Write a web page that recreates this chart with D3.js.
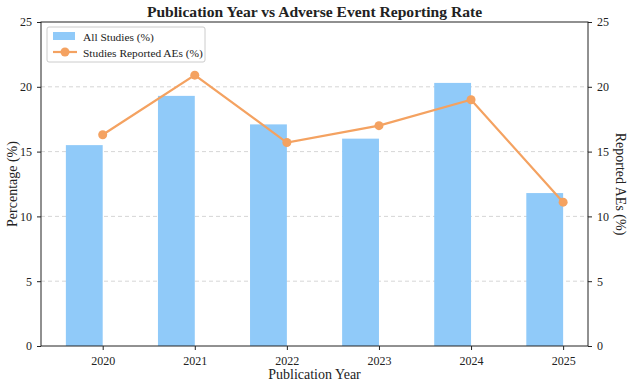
<!DOCTYPE html>
<html>
<head>
<meta charset="utf-8">
<script src="https://cdn.jsdelivr.net/npm/d3@7"></script>
<style>
  body { margin: 0; background: #fff; }
  svg text { font-family: "Liberation Serif", "DejaVu Serif", serif; fill: #222; }
</style>
</head>
<body>
<script>
// data
const years = [2020, 2021, 2022, 2023, 2024, 2025];
const allStudies = [15.5, 19.3, 17.1, 16.0, 20.3, 11.8];
const reportedAEs = [16.3, 20.9, 15.7, 17.0, 19.0, 11.1];
const yTicks = [0, 5, 10, 15, 20, 25];

const W = 630, H = 385;
const margin = { top: 22, right: 42, bottom: 39, left: 41 },
    width = W - margin.left - margin.right,
    height = H - margin.top - margin.bottom;

const svg = d3.select('body').append('svg')
    .attr('width', W)
    .attr('height', H);

const g = svg.append('g')
    .attr('transform', `translate(${margin.left},${margin.top})`);

// X: linear, like matplotlib's numeric axis with 5% margins
const barW = 0.4;
const x = d3.scaleLinear()
    .domain([2020 - barW - 0.27, 2025 + 0.27])
    .range([0, width]);

// Y (both sides share 0-25)
const y = d3.scaleLinear().domain([0, 25]).range([height, 0]);
const y2 = d3.scaleLinear().domain([0, 25]).range([height, 0]);

// grid
g.append('g').selectAll('line')
    .data(yTicks.slice(1, -1))
    .join('line')
    .attr('x1', 0).attr('x2', width)
    .attr('y1', d => y(d)).attr('y2', d => y(d))
    .attr('stroke', '#ccc')
    .attr('stroke-dasharray', '4,3')
    .attr('stroke-width', 0.8);

// Bars (right edge sits on the tick)
g.append('g').selectAll('rect')
    .data(years)
    .join('rect')
    .attr('x', d => x(d - barW))
    .attr('width', d => x(d) - x(d - barW))
    .attr('y', (d, i) => y(allStudies[i]))
    .attr('height', (d, i) => height - y(allStudies[i]))
    .attr('fill', '#90CAF9');

// Line
const orange = '#F4A261';
g.append('path')
    .datum(years)
    .attr('fill', 'none')
    .attr('stroke', orange)
    .attr('stroke-width', 2.2)
    .attr('d', d3.line().x(d => x(d)).y((d, i) => y2(reportedAEs[i])));

g.append('g').selectAll('circle')
    .data(years)
    .join('circle')
    .attr('cx', d => x(d))
    .attr('cy', (d, i) => y2(reportedAEs[i]))
    .attr('r', 4.5)
    .attr('fill', orange);

// Axes
const styleAxis = sel => {
    sel.select('.domain').remove();
    sel.selectAll('.tick line').attr('stroke', '#222');
    sel.selectAll('.tick text').style('font-size', '12px').style('font-family', '"Liberation Serif", serif');
};

g.append('g')
    .attr('transform', `translate(0,${height})`)
    .call(d3.axisBottom(x).tickValues(years).tickFormat(d3.format('d')).tickSize(4).tickPadding(6))
    .call(styleAxis);

g.append('g')
    .call(d3.axisLeft(y).tickValues(yTicks).tickSize(4).tickPadding(5))
    .call(styleAxis);

g.append('g')
    .attr('transform', `translate(${width},0)`)
    .call(d3.axisRight(y2).tickValues(yTicks).tickSize(4).tickPadding(5))
    .call(styleAxis);

// frame
g.append('rect')
    .attr('width', width).attr('height', height)
    .attr('fill', 'none')
    .attr('stroke', '#222')
    .attr('stroke-width', 1);

// Title + labels
svg.append('text')
    .attr('x', margin.left + width / 2).attr('y', 17)
    .attr('text-anchor', 'middle')
    .style('font-size', '15.6px').style('font-weight', 'bold')
    .text('Publication Year vs Adverse Event Reporting Rate');

svg.append('text')
    .attr('x', margin.left + width / 2).attr('y', 379)
    .attr('text-anchor', 'middle')
    .style('font-size', '14px')
    .text('Publication Year');

svg.append('text')
    .attr('transform', `translate(17,${margin.top + height / 2}) rotate(-90)`)
    .attr('text-anchor', 'middle')
    .style('font-size', '14px')
    .text('Percentage (%)');

svg.append('text')
    .attr('transform', `translate(616,${margin.top + height / 2}) rotate(90)`)
    .attr('text-anchor', 'middle')
    .style('font-size', '14px')
    .text('Reported AEs (%)');

// Legend
const lg = g.append('g').attr('transform', 'translate(6,5)');
lg.append('rect')
    .attr('width', 158).attr('height', 35)
    .attr('rx', 2)
    .attr('fill', '#fff').attr('fill-opacity', 0.85)
    .attr('stroke', '#ccc');
lg.append('rect')
    .attr('x', 6).attr('y', 5).attr('width', 22).attr('height', 8)
    .attr('fill', '#90CAF9');
lg.append('text')
    .attr('x', 36).attr('y', 13.5)
    .style('font-size', '11.4px')
    .text('All Studies (%)');
lg.append('line')
    .attr('x1', 6).attr('x2', 30).attr('y1', 25).attr('y2', 25)
    .attr('stroke', orange).attr('stroke-width', 2.2);
lg.append('circle')
    .attr('cx', 18).attr('cy', 25).attr('r', 4.5).attr('fill', orange);
lg.append('text')
    .attr('x', 36).attr('y', 29.5)
    .style('font-size', '11.4px')
    .text('Studies Reported AEs (%)');
</script>
</body>
</html>
